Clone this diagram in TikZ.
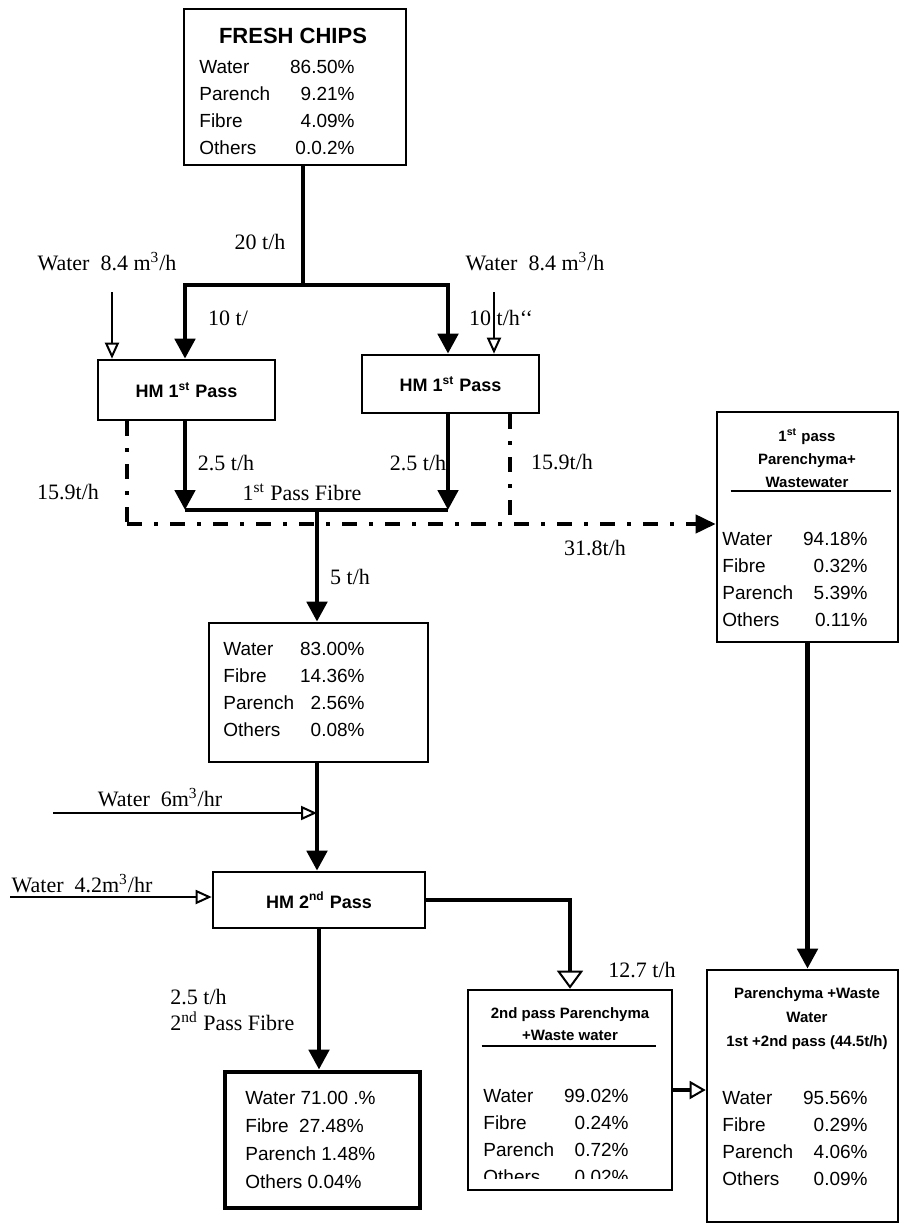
\documentclass[tikz,border=0pt]{standalone}
\usepackage{fontspec}
\setmainfont{Liberation Serif}
\newfontfamily\boxfont{Liberation Sans}
\usetikzlibrary{arrows.meta,positioning,calc}
\tikzset{
  box/.style={rectangle,draw,line width=1.3pt,inner sep=0pt},
  unit/.style={box,font=\boxfont\bfseries\fontsize{9}{11}\selectfont},
  rows/.style={anchor=north west,inner sep=0pt,font=\boxfont\fontsize{9.5}{13.5}\selectfont},
  head/.style={align=center,inner sep=0pt,font=\boxfont\bfseries\fontsize{7.5}{11.5}\selectfont},
  flabel/.style={inner sep=1pt,font=\fontsize{11}{13}\selectfont},
  flow/.style={line width=2.4pt},
  feed/.style={flow,-{Triangle[length=10pt,width=10pt]}},
  water/.style={line width=1pt,-{Triangle[fill=white,length=8pt,width=7pt]}},
  waste/.style={line width=2pt,dash pattern=on 7.5pt off 6pt on 2pt off 6pt},
  rule/.style={line width=1.2pt}
}

\begin{document}
\begin{tikzpicture}[x=0.5pt,y=-0.5pt]
  \useasboundingbox (0,0) rectangle (901,1225);

  % --- Boxes ---
  \node[box,minimum width=111pt,minimum height=78pt]   (fresh)  at (295,87)     {};
  \node[unit,minimum width=88.5pt,minimum height=30pt] (hmA)    at (186.5,390)  {HM 1\textsuperscript{st} Pass};
  \node[unit,minimum width=88.5pt,minimum height=29pt] (hmB)    at (450.5,384)  {HM 1\textsuperscript{st} Pass};
  \node[box,minimum width=90.5pt,minimum height=115pt] (pass1)  at (807.5,527)  {};
  \node[box,minimum width=109.5pt,minimum height=69.5pt] (mix1) at (318.5,692.5) {};
  \node[unit,minimum width=106pt,minimum height=28pt]  (hm2)    at (319,900)    {HM 2\textsuperscript{nd} Pass};
  \node[box,line width=2.4pt,minimum width=97.5pt,minimum height=68pt] (fibre2) at (322.5,1140) {};
  \node[box,minimum width=102pt,minimum height=100pt]  (pass2)  at (570,1090)   {};
  \node[box,minimum width=95.5pt,minimum height=126pt] (mixall) at (802.5,1096)  {};

  % --- Box contents ---
  \node[inner sep=0pt,font=\boxfont\bfseries\fontsize{11}{13}\selectfont] (freshT) at (293,36) {FRESH CHIPS};
  \node[rows] (freshR) at (199,54) {\begin{tabular}{@{}l@{\hspace{10pt}}r@{}}
    Water & 86.50\%\\ Parench & 9.21\%\\ Fibre & 4.09\%\\ Others & 0.0.2\%\end{tabular}};
  \node[head] (pass1H) at (807,458) {1\textsuperscript{st} pass\\Parenchyma+\\Wastewater};
  \draw[rule] (pass1.north west) ++(15,80) -- ++(160,0);
  \node[rows] (pass1R) at (722,526) {\begin{tabular}{@{}l@{\hspace{5pt}}r@{}}
    Water & 94.18\%\\ Fibre & 0.32\%\\ Parench & 5.39\%\\ Others & 0.11\%\end{tabular}};
  \node[rows] (mix1R) at (223,636) {\begin{tabular}{@{}l@{\hspace{3pt}}r@{}}
    Water & 83.00\%\\ Fibre & 14.36\%\\ Parench & 2.56\%\\ Others & 0.08\%\end{tabular}};
  \node[rows,font=\boxfont\fontsize{9.5}{14}\selectfont] (fibre2R) at (245,1084) {\begin{tabular}{@{}l@{}}
    Water 71.00 .\%\\ Fibre\ \ 27.48\%\\ Parench 1.48\%\\ Others 0.04\%\end{tabular}};
  \node[head,font=\boxfont\bfseries\fontsize{7.5}{11}\selectfont] (pass2H) at (570,1024) {2nd pass Parenchyma\\+Waste water};
  \draw[rule] (pass2.north west) ++(15,57) -- ++(174,0);
  \begin{scope}
    \clip (pass2.north west) rectangle ($(pass2.south east)+(0,-13)$);
    \node[rows] (pass2R) at (483,1083) {\begin{tabular}{@{}l@{\hspace{5pt}}r@{}}
      Water & 99.02\%\\ Fibre & 0.24\%\\ Parench & 0.72\%\\ Others & 0.02\%\end{tabular}};
  \end{scope}
  \node[head,font=\boxfont\bfseries\fontsize{7.5}{12}\selectfont] (mixallH) at (807,1019) {Parenchyma +Waste\\Water\\1st +2nd pass (44.5t/h)};
  \node[rows] (mixallR) at (722,1085) {\begin{tabular}{@{}l@{\hspace{5pt}}r@{}}
    Water & 95.56\%\\ Fibre & 0.29\%\\ Parench & 4.06\%\\ Others & 0.09\%\end{tabular}};

  % --- Flow labels ---
  \node[flabel] (l20)   at (260,242) {20 t/h};
  \node[flabel] (lwA)   at (107,262) {Water\ \ 8.4 m\textsuperscript{3}/h};
  \node[flabel] (lwB)   at (535,262) {Water\ \ 8.4 m\textsuperscript{3}/h};
  \node[flabel] (l10A)  at (228,318) {10 t/};
  \node[flabel] (l10B)  at (501,318) {10 t/h`{}`};
  \node[flabel] (l25A)  at (226,463) {2.5 t/h};
  \node[flabel] (l25B)  at (418,463) {2.5 t/h};
  \node[flabel] (lfib1) at (302,492) {1\textsuperscript{st} Pass Fibre};
  \node[flabel] (l159A) at (68,492)  {15.9t/h};
  \node[flabel] (l159B) at (562,462) {15.9t/h};
  \node[flabel] (l5)    at (350,577) {5 t/h};
  \node[flabel] (l318)  at (595,548) {31.8t/h};
  \node[flabel] (lw6)   at (160,798) {Water\ \ 6m\textsuperscript{3}/hr};
  \node[flabel] (lw42)  at (82,884)  {Water\ \ 4.2m\textsuperscript{3}/hr};
  \node[flabel,align=left,anchor=west] (lfib2) at (168,1010) {2.5 t/h\\2\textsuperscript{nd} Pass Fibre};
  \node[flabel] (l127)  at (642,970) {12.7 t/h};

  % --- First pass ---
  \coordinate (split) at (303,285);
  \coordinate (colA)  at (185,285);
  \coordinate (colB)  at (448,285);
  \draw[flow] (fresh.south -| split) -- (split);
  \draw[feed] (split) -| (colA |- hmA.north);
  \draw[feed] (split) -| (colB |- hmB.north);
  \coordinate (wA) at (112,292);
  \coordinate (wB) at (494,292);
  \draw[water] (wA) -- (wA |- hmA.north);
  \draw[water] (wB) -- (wB |- hmB.north);

  % --- First pass fibre ---
  \coordinate (fib) at (317,510);
  \draw[feed] (hmA.south -| colA) -- (colA |- fib);
  \draw[feed] (hmB.south -| colB) -- (colB |- fib);
  \draw[flow] (colA |- fib) -- (colB |- fib);
  \draw[feed] (fib) -- (fib |- mix1.north);

  % --- First pass wastewater ---
  \coordinate (wwA) at (127,524);
  \coordinate (wwB) at (510,524);
  \draw[waste] (hmA.south -| wwA) -- (wwA);
  \draw[waste] (hmB.south -| wwB) -- (wwB);
  \draw[waste,-{Triangle[length=10pt,width=9pt]}] (wwA) -- (wwA -| pass1.west);

  % --- Second pass ---
  \draw[feed] (mix1.south -| fib) -- (fib |- hm2.north);
  \coordinate (w6)  at (53,813);
  \coordinate (w42) at (10,897);
  \draw[water] (w6) -- (w6 -| fib);
  \draw[water] (w42) -- (w42 -| hm2.west);
  \draw[feed] (hm2.south) -- (hm2.south |- fibre2.north);
  \draw[line width=2pt,-{Triangle[fill=white,line width=1pt,length=9pt,width=13pt]}] (hm2.east) -| (pass2.north);
  \draw[line width=2.4pt,-{Triangle[fill=white,line width=1pt,length=8pt,width=9pt]}] (pass2.east) -- (pass2.east -| mixall.west);
  \draw[feed] (pass1.south) -- (pass1.south |- mixall.north);
\end{tikzpicture}
\end{document}
